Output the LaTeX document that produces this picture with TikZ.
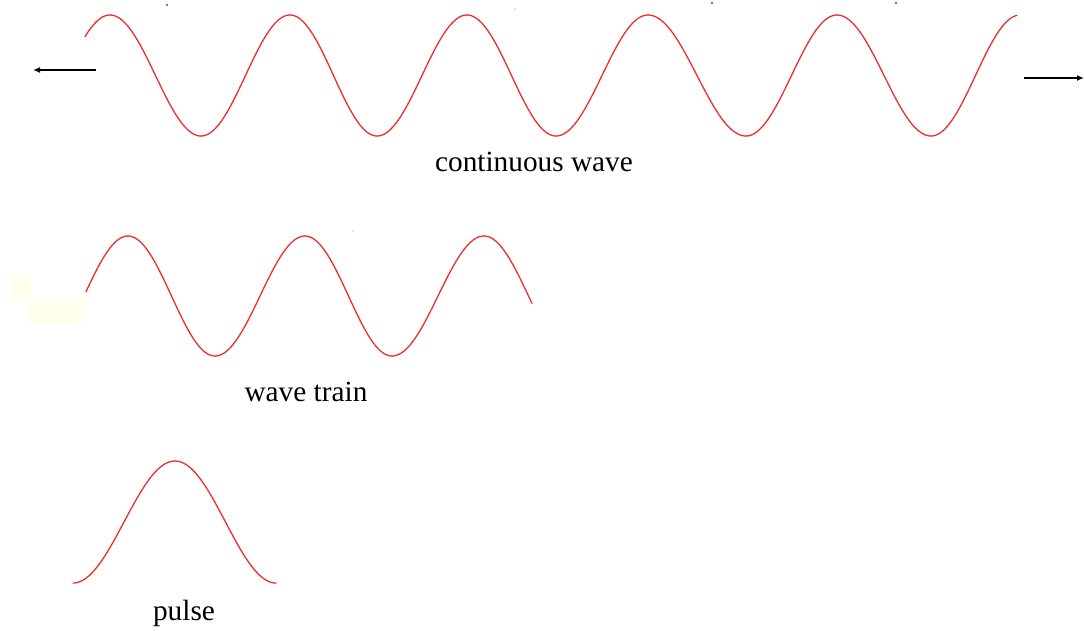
\documentclass[tikz,border=0pt]{standalone}
\usepackage{fontspec}
\setmainfont{Liberation Serif}
\usetikzlibrary{arrows.meta}
\definecolor{wavered}{RGB}{238,45,45}
\definecolor{paleyellow}{RGB}{255,255,238}
\newcommand\hseg[6]{\draw[wave] plot[domain=#5:#6, samples=61, variable=\tt] ({#1+(#3-#1)*(\tt/180)}, {(#2+#4)/2+(#2-#4)/2*cos(\tt)});}
\begin{document}
\begin{tikzpicture}[x=1pt,y=-1pt,
  wave/.style={draw=wavered, line width=1.3pt, line cap=round, line join=round},
  arrowline/.style={draw=black, line width=1.4pt, -{Latex[length=7pt,width=6pt]}},
  lbl/.style={font=\fontsize{29.3}{32}\selectfont, anchor=base, inner sep=0pt},
  speck/.style={fill=#1, draw=none}]
\useasboundingbox (0,0) rectangle (1084,630);
% pale patches
\fill[paleyellow] (12,275) rectangle (30,301);
\fill[paleyellow] (29,297) rectangle (86,323);
% specks
\fill[speck=black!70] (167,5) circle (1.1);
\fill[speck=black!70] (712,3) circle (1.1);
\fill[speck=black!70] (896,3) circle (1.1);
\fill[speck=black!15] (515,9) circle (1.2);
\fill[speck=black!15] (353,231) circle (1.2);
% continuous wave
\hseg{20}{136}{110}{15}{130}{180}
\hseg{110}{15}{201}{136}{0}{180}
\hseg{201}{136}{290}{15}{0}{180}
\hseg{290}{15}{377}{136}{0}{180}
\hseg{377}{136}{467}{15}{0}{180}
\hseg{467}{15}{556}{136}{0}{180}
\hseg{556}{136}{648}{15}{0}{180}
\hseg{648}{15}{746}{136}{0}{180}
\hseg{746}{136}{837}{15}{0}{180}
\hseg{837}{15}{931}{136}{0}{180}
\hseg{931}{136}{1020}{15}{0}{174}
% wave train
\hseg{40}{356}{128}{236}{94}{180}
\hseg{128}{236}{215}{356}{0}{180}
\hseg{215}{356}{305}{236}{0}{180}
\hseg{305}{236}{392}{356}{0}{180}
\hseg{392}{356}{484}{236}{0}{180}
\hseg{484}{236}{573}{356}{0}{97}
% pulse
\hseg{73}{583}{175}{461}{0}{180}
\hseg{175}{461}{276}{583}{0}{180}
% arrows
\coordinate (la0) at (96,70);
\coordinate (la1) at (33,70);
\coordinate (ra0) at (1024,78);
\coordinate (ra1) at (1084,78);
\draw[arrowline] (la0) -- (la1);
\draw[arrowline] (ra0) -- (ra1);
% labels
\node[lbl] (cw) at (534,171) {continuous wave};
\node[lbl] (wt) at (306,401) {wave train};
\node[lbl] (pl) at (184,620) {pulse};
\end{tikzpicture}
\end{document}
